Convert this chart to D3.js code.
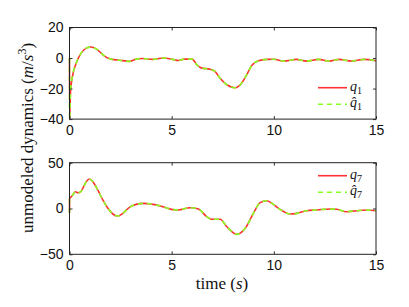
<!DOCTYPE html>
<html>
<head>
<meta charset="utf-8">
<script src="https://cdn.jsdelivr.net/npm/d3@7"></script>
<style>
  body { margin: 0; background: #fff; }
  svg { display: block; }
</style>
</head>
<body>
<div id="chart"></div>
<script>
// q1 panel (time s, value)
var q1_t = [0, 0.005, 0.05, 0.16, 0.33, 0.57, 0.82, 1.06, 1.31, 1.55, 1.79, 2.04, 2.45, 2.93, 3.26, 3.59, 4.08, 4.57, 5.06, 5.33, 5.6, 6.0, 6.23, 6.47, 6.88, 7.12, 7.37, 7.7, 8.1, 8.43, 8.67, 8.92, 9.24, 9.65, 10.0, 10.5, 11.1, 11.6, 12.2, 12.7, 13.2, 13.8, 14.4, 15];
var q1_v = [0, -40, -22, -11, -3.3, 3.2, 6.5, 7.2, 6, 3.2, 0.6, -0.7, -1.4, -2.2, -0.7, -0.3, -0.9, 0, -0.9, -1.6, -0.7, -0.7, -4.4, -6.6, -7.3, -8.8, -13.2, -17.5, -19.5, -16.4, -11, -4.9, -1.8, -0.9, -0.8, -2, -0.9, -2, -0.9, -2, -0.9, -2, -0.9, -1.8];

// q7 panel
var q7_t = [0, 0.005, 0.05, 0.16, 0.28, 0.41, 0.52, 0.65, 0.82, 0.98, 1.14, 1.39, 1.63, 1.88, 2.12, 2.37, 2.61, 2.93, 3.26, 3.59, 4.08, 4.57, 5.06, 5.33, 5.9, 6.31, 6.72, 6.96, 7.37, 7.7, 8.19, 8.6, 9.0, 9.33, 9.66, 9.98, 10.3, 10.79, 11.12, 11.6, 12.1, 12.75, 13.08, 13.56, 14.05, 14.54, 15];
var q7_v = [-5, 11, 12, 14.7, 18.3, 17.2, 17.7, 22, 29.3, 32.2, 29.3, 20, 9.3, 0.2, -6, -8.2, -5.3, 1.3, 4.5, 5.6, 4.5, 2, -1.2, -1.6, 0.9, -0.5, -9, -11.8, -11.8, -19.9, -28.2, -21.6, -5.2, 6.4, 8.5, 4.5, -0.9, -6, -5.3, -2.4, -1.6, -0.5, -0.9, -3.5, -2.4, -1.6, -2.5];

var x_ticks = [0, 5, 10, 15];
var q1_ticks = [20, 0, -20, -40];
var q7_ticks = [50, 0, -50];

var panels = [
    {t: q1_t, v: q1_v, domain: [-40, 20], ticks: q1_ticks, top: 27.5, legend: ["1", "1"], legend_y: 87.7},
    {t: q7_t, v: q7_v, domain: [-50, 50], ticks: q7_ticks, top: 162.7, legend: ["7", "7"], legend_y: 175.7}
];

var width = 409, height = 307;
var left = 69.5, right = 376, ph = 91.6;
var serif = "Liberation Serif, Times New Roman, serif";

var svg = d3.select("#chart").append("svg")
    .attr("width", width)
    .attr("height", height);

var x = d3.scaleLinear().domain([0, 15]).range([left, right]);

var red = "#ff3333", green = "#88ff22";

panels.forEach(function (p) {
    var y = d3.scaleLinear().domain(p.domain).range([p.top + ph, p.top]);
    var g = svg.append("g");

    var pts = p.t.map(function (t, i) { return {x: t, y: p.v[i]}; });
    var line = d3.line()
        .x(function (d) { return x(d.x); })
        .y(function (d) { return y(d.y); })
        .curve(d3.curveMonotoneX);

    g.append("path")
        .attr("d", line(pts))
        .attr("fill", "none")
        .attr("stroke", red)
        .attr("stroke-width", 1.6);
    g.append("path")
        .attr("d", line(pts))
        .attr("fill", "none")
        .attr("stroke", green)
        .attr("stroke-width", 1.6)
        .attr("stroke-dasharray", "5,4");

    // axes, ticks inward and mirrored
    var axL = g.append("g").attr("transform", "translate(" + left + ",0)")
        .call(d3.axisLeft(y).tickValues(p.ticks).tickSize(-3).tickPadding(6)
            .tickFormat(function (d) { return d < 0 ? "\u2212" + Math.abs(d) : d; }));
    var axR = g.append("g").attr("transform", "translate(" + right + ",0)")
        .call(d3.axisRight(y).tickValues(p.ticks).tickSize(-3).tickFormat(""));
    var axB = g.append("g").attr("transform", "translate(0," + (p.top + ph) + ")")
        .call(d3.axisBottom(x).tickValues(x_ticks).tickSize(-3).tickPadding(6));
    var axT = g.append("g").attr("transform", "translate(0," + p.top + ")")
        .call(d3.axisTop(x).tickValues(x_ticks).tickSize(-3).tickFormat(""));
    [axL, axR, axB, axT].forEach(function (a) {
        a.select(".domain").remove();
        a.selectAll("line").attr("stroke", "#333");
        a.selectAll("text").attr("font-family", "Liberation Sans, Arial, sans-serif")
            .attr("font-size", 14).attr("fill", "#111");
    });
    g.append("rect")
        .attr("x", left).attr("y", p.top)
        .attr("width", right - left).attr("height", ph)
        .attr("fill", "none").attr("stroke", "#222").attr("stroke-width", 1);

    // legend
    var lx1 = 318, lx2 = 347;
    var items = [
        {color: red, dash: null, hat: false, y: p.legend_y},
        {color: green, dash: "5,4", hat: true, y: p.legend_y + 16.5}
    ];
    items.forEach(function (it, i) {
        g.append("line")
            .attr("x1", lx1).attr("x2", lx2)
            .attr("y1", it.y).attr("y2", it.y)
            .attr("stroke", it.color).attr("stroke-width", 1.6)
            .attr("stroke-dasharray", it.dash);
        var tx = g.append("text")
            .attr("x", lx2 + 3).attr("y", it.y + 3)
            .attr("font-family", serif)
            .attr("font-size", 14).attr("fill", "#111");
        tx.append("tspan").attr("font-style", "italic").text(it.hat ? "q\u0302" : "q");
        tx.append("tspan").attr("font-size", 10).attr("dy", 3).text(p.legend[i]);
    });
});

// axis titles
var ylab = svg.append("text")
    .attr("transform", "translate(33,138) rotate(-90)")
    .attr("text-anchor", "middle")
    .attr("font-family", serif)
    .attr("font-size", 17).attr("fill", "#111");
ylab.append("tspan").text("unmodeled dynamics (");
ylab.append("tspan").attr("font-style", "italic").text("m");
ylab.append("tspan").text("/");
ylab.append("tspan").attr("font-style", "italic").text("s");
ylab.append("tspan").attr("font-size", 12).attr("dy", -7).text("3");
ylab.append("tspan").attr("dy", 7).text(")");

var xlab = svg.append("text")
    .attr("x", 222).attr("y", 289)
    .attr("text-anchor", "middle")
    .attr("font-family", serif)
    .attr("font-size", 17).attr("fill", "#111");
xlab.append("tspan").text("time (");
xlab.append("tspan").attr("font-style", "italic").text("s");
xlab.append("tspan").text(")");
</script>
</body>
</html>
